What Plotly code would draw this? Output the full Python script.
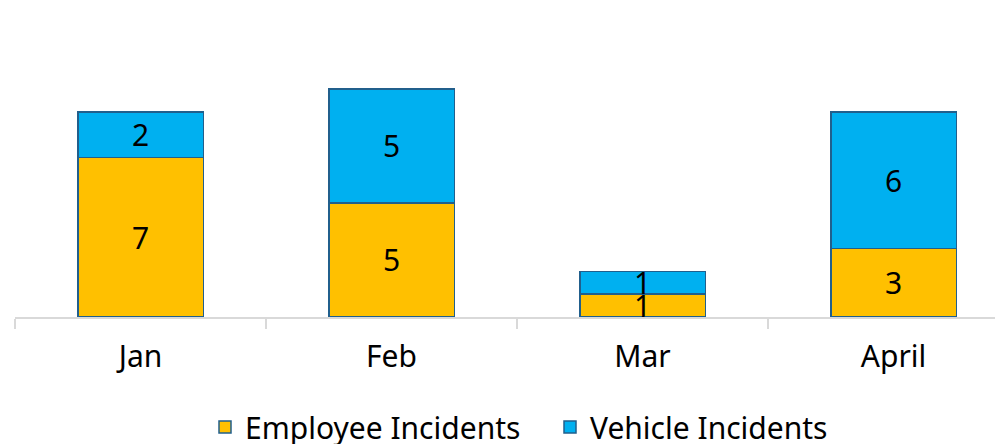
import plotly.graph_objects as go

months = ["Jan", "Feb", "Mar", "April"]
employee = [7, 5, 1, 3]
vehicle = [2, 5, 1, 6]

FONT = "Noto Sans"
edge = "#215F8C"
FS = 30

fig = go.Figure()
fig.add_trace(go.Bar(
    x=months, y=employee, name="Employee Incidents",
    marker=dict(color="#FFC000", line=dict(color=edge, width=1.5)),
    text=employee, textposition="inside", insidetextanchor="middle", textangle=0,
    textfont=dict(size=FS, color="#000000", family=FONT), width=0.5,
))
fig.add_trace(go.Bar(
    x=months, y=vehicle, name="Vehicle Incidents",
    marker=dict(color="#00B0F0", line=dict(color=edge, width=1.5)),
    text=vehicle, textposition="inside", insidetextanchor="middle", textangle=0,
    textfont=dict(size=FS, color="#000000", family=FONT), width=0.5,
))

fig.update_layout(
    barmode="stack",
    width=995, height=436,
    margin=dict(l=7, r=0, t=0, b=127),
    plot_bgcolor="white", paper_bgcolor="white",
    font=dict(family=FONT, size=FS, color="#000000"),
    uniformtext=dict(minsize=FS, mode="show"),
    showlegend=True,
    legend=dict(orientation="h", x=197/995, xref="container", xanchor="left",
                y=17/436, yref="container", yanchor="middle",
                font=dict(size=FS, family=FONT),
                entrywidth=300, entrywidthmode="pixels",
                traceorder="normal"),
    xaxis=dict(range=[-0.5, 3.436], showline=True, linecolor="#D9D9D9", linewidth=1.5,
               ticks="outside", tickson="boundaries", ticklen=10, tickcolor="#D9D9D9",
               tickwidth=1.5, tickfont=dict(size=FS, family=FONT), showgrid=False,
               ticklabelstandoff=12),
    yaxis=dict(range=[0, 13.55], visible=False, showgrid=False, zeroline=False),
)

fig.write_html("out.html")
